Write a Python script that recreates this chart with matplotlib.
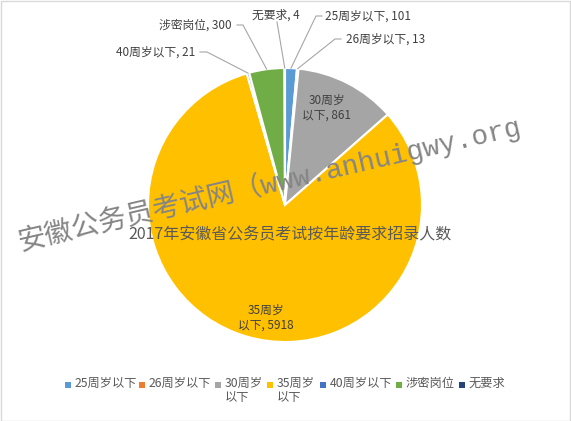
import numpy as np
import matplotlib
matplotlib.use('Agg')
import matplotlib.pyplot as plt
from matplotlib.patches import Rectangle

plt.rcParams['font.family'] = ['Noto Sans CJK SC', 'DejaVu Sans']

# data
labels = ['25周岁以下', '26周岁以下', '30周岁以下', '35周岁以下', '40周岁以下', '涉密岗位', '无要求']
values = [101, 13, 861, 5918, 21, 300, 4]
colors = ['#5B9BD5', '#ED7D31', '#A5A5A5', '#FFC000', '#4472C4', '#70AD47', '#264478']
legend_labels = ['25周岁以下', '26周岁以下', '30周岁\n以下', '35周岁\n以下', '40周岁以下', '涉密岗位', '无要求']
title = '2017年安徽省公务员考试按年龄要求招录人数'
watermark = '安徽公务员考试网（www.anhuigwy.org'

W, H = 571, 421
CX, CY, R = 285, 205, 137   # pie centre / radius in pixels (from top-left)
text_col = '#595959'
line_col = '#A6A6A6'


def P(x, y):
    # pixel (from top-left) -> data coords, 1 unit = pie radius
    return (x - CX) / R, (CY - y) / R


fig = plt.figure(figsize=(W / 100, H / 100), dpi=100)
ax = fig.add_axes([0, 0, 1, 1])

wedges, _ = ax.pie(values, colors=colors, startangle=90, counterclock=False,
                   radius=1, wedgeprops=dict(edgecolor='white', linewidth=1.5))
ax.set_aspect('auto')
ax.set_xlim(-CX / R, (W - CX) / R)
ax.set_ylim(-(H - CY) / R, CY / R)
ax.axis('off')


def edge_point(w):
    ang = np.deg2rad((w.theta1 + w.theta2) / 2)
    return np.cos(ang), np.sin(ang)


fs = 8.5
# outside labels: (index, text position, anchor, elbow points)
outside = [
    (0, (325, 16), 'left', [(316, 16), (322, 16)]),
    (1, (346, 39), 'left', [(335, 39), (341, 39)]),
    (6, (276, 15), 'center', [(277, 22)]),
    (5, (232, 25), 'right', [(243, 25), (237, 25)]),
    (4, (195, 52), 'right', [(207, 52), (200, 52)]),
]
for i, pos, ha, elbow in outside:
    ex, ey = edge_point(wedges[i])
    pts = [(ex, ey)] + [P(*p) for p in elbow]
    xs, ys = zip(*pts)
    ax.plot(xs, ys, color=line_col, lw=0.8, zorder=3)
    ax.text(*P(*pos), f'{labels[i]}, {values[i]}', ha=ha, va='center',
            fontsize=fs, color='#404040', zorder=4)

# inside labels
ax.text(*P(327, 108), f'30周岁\n以下, {values[2]}', ha='center', va='center',
        fontsize=fs, color='#404040', linespacing=1.2, zorder=4)
ax.text(*P(266, 318), f'35周岁\n以下, {values[3]}', ha='center', va='center',
        fontsize=fs, color='#404040', linespacing=1.2, zorder=4)

# watermark
ax.text(*P(20, 250), watermark, rotation=13, rotation_mode='anchor',
        ha='left', va='baseline', fontsize=20, color='#858585',
        family=['Liberation Mono', 'Noto Sans CJK SC'], zorder=5)

# title
ax.text(*P(290, 235), title, ha='center', va='center', fontsize=11.5,
        color=text_col, zorder=6)

# legend (manual, markers aligned with first line)
leg_x = [68, 142, 218, 270, 323, 399, 462]
leg_y = 385
for x, lab, c in zip(leg_x, legend_labels, colors):
    fig.patches.append(Rectangle(((x - 3) / W, 1 - (leg_y + 3) / H), 6 / W, 6 / H,
                                 facecolor=c, edgecolor='none',
                                 transform=fig.transFigure))
    fig.text((x + 7) / W, 1 - (leg_y - 8) / H, lab, ha='left', va='top',
             fontsize=8.8, color=text_col, linespacing=1.1)

# chart border
fig.patches.append(Rectangle((0.5 / W, 0.5 / H), 1 - 1.5 / W, 1 - 1.5 / H,
                             fill=False, edgecolor='#D9D9D9', lw=1,
                             transform=fig.transFigure))

fig.savefig('out.png', dpi=100)
